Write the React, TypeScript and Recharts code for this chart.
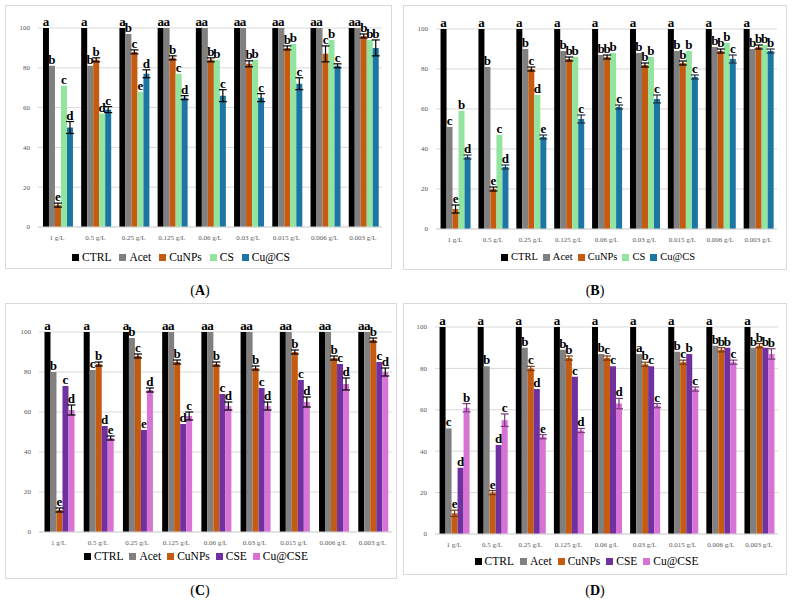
import React from "react";
import { BarChart, Bar, XAxis, YAxis, CartesianGrid, Legend, ErrorBar, LabelList } from "recharts";

const doses = ["1 g/L", "0.5 g/L", "0.25 g/L", "0.125 g/L", "0.06 g/L", "0.03 g/L", "0.015 g/L", "0.006 g/L", "0.003 g/L"];
const yTicks = [0, 20, 40, 60, 80, 100];
const ctrl = [100, 100, 100, 100, 100, 100, 100, 100, 100];

// (A) chitosan
const aAcet = [81, 81, 97, 100, 100, 100, 100, 100, 100];
const aCuNPs = [11, 84, 88, 85, 84, 82, 90, 87, 96];
const aCS = [71, 57, 68, 77, 84, 84, 92, 94, 94];
const aCuCS = [50, 59, 77, 65, 66, 65, 72, 81, 90];
const aCuNPsErr = [1, 1, 1, 1, 1, 1.5, 1, 4, 1];
const aCuCSErr = [3, 1.5, 2, 1, 3, 2, 3, 1, 4];
const aLetters = ["abecd", "abbdc", "abced", "aabcd", "aabbc", "aabbc", "aabbc", "aacbc", "aabbb"];

// (B) chitosan
const bAcet = [51, 81, 90, 89, 87, 88, 89, 91, 90];
const bCuNPs = [10, 20, 80, 85, 86, 82, 83, 89, 91];
const bCS = [59, 47, 67, 86, 88, 86, 89, 93, 92];
const bCuCS = [36, 31, 46, 55, 61, 65, 76, 85, 89];
const bCuNPsErr = [2, 1, 1, 1, 1, 1, 1, 1, 1];
const bCuCSErr = [1, 1, 1, 2, 1, 2, 1, 2, 1];
const bLetters = ["acebd", "abecd", "abcde", "abbbc", "abbbc", "abbbc", "abbbc", "abbbc", "abbbb"];

// (C) extract
const cAcet = [80, 81, 97, 100, 100, 100, 100, 100, 100];
const cCuNPs = [11, 84, 88, 85, 84, 82, 90, 87, 96];
const cCSE = [73, 53, 51, 54, 69, 72, 76, 84, 85];
const cCuCSE = [61, 47, 71, 58, 63, 63, 65, 74, 80];
const cCuNPsErr = [1, 1, 1, 1, 1, 1, 1, 1, 1];
const cCuCSEErr = [2.5, 1, 1, 2, 2, 2, 2.5, 3, 2];
const cLetters = ["abecd", "acbde", "abced", "aabdc", "aabcd", "aabcd", "aabcd", "aabcd", "aabcd"];

// (D) extract
const dAcet = [51, 81, 90, 89, 87, 87, 88, 91, 90];
const dCuNPs = [10, 20, 80, 85, 85, 82, 83, 89, 91];
const dCSE = [32, 43, 70, 76, 81, 81, 87, 90, 90];
const dCuCSE = [61, 55, 47, 50, 63, 62, 70, 83, 87];
const dCuNPsErr = [1.5, 1, 1, 1, 1, 1, 1, 1, 1];
const dCuCSEErr = [2, 3, 1, 1, 2.5, 1, 1, 1, 2.5];
const dLetters = ["acedb", "abedc", "abcde", "abbcd", "abccd", "aabcc", "abcbc", "abbbc", "abbbb"];

const csNames = ["CTRL", "Acet", "CuNPs", "CS", "Cu@CS"];
const cseNames = ["CTRL", "Acet", "CuNPs", "CSE", "Cu@CSE"];
const csColors = ["#000000", "#808080", "#C55A11", "#92E59E", "#1B76A4"];
const cseColors = ["#000000", "#808080", "#C55A11", "#7030A0", "#D873D6"];

const FONT = "Liberation Serif, DejaVu Serif, serif";
const KEYS = ["ctrl", "acet", "cunps", "s4", "s5"];

type Row = { [k: string]: any };

function makeRows(acet: number[], cunps: number[], s4: number[], s5: number[], cunpsErr: number[], s5Err: number[], letters: string[]): Row[] {
  return doses.map((dose, i) => ({
    dose,
    ctrl: ctrl[i],
    acet: acet[i],
    cunps: cunps[i],
    s4: s4[i],
    s5: s5[i],
    cunpsErr: cunpsErr[i],
    s5Err: s5Err[i],
    letters: letters[i],
  }));
}

const letterLabel = (rows: Row[], series: number) => (props: any) => {
  const vb = props.viewBox || props;
  const x = Number(vb.x ?? props.x);
  const y = Number(vb.y ?? props.y);
  const width = Number(vb.width ?? props.width);
  const height = Number(vb.height ?? props.height);
  const row = rows[props.index ?? 0];
  if (!row) return null;
  const val = row[KEYS[series]];
  const err = series === 2 ? row.cunpsErr : series === 4 ? row.s5Err : 0;
  const errPx = val ? (err * height) / val : 0;
  return (
    <text
      x={x + width / 2}
      y={y - errPx - 2}
      textAnchor="middle"
      style={{ fontFamily: FONT, fontSize: 13, fontWeight: 700 }}
      fill="#000"
    >
      {row.letters[series]}
    </text>
  );
};

// legend in series order (recharts sorts by name otherwise)
const legendContent = (names: string[], colors: string[], gap: number, size: number) => () => (
  <div
    style={{
      display: "flex",
      justifyContent: "center",
      whiteSpace: "nowrap",
      gap,
      fontFamily: FONT,
      fontSize: size,
      lineHeight: "14px",
      color: "#000",
    }}
  >
    {names.map((n, i) => (
      <span key={n} style={{ display: "inline-flex", alignItems: "center", gap: 3 }}>
        <span style={{ display: "inline-block", width: 7, height: 7, background: colors[i] }} />
        <span>{n}</span>
      </span>
    ))}
  </div>
);

type PanelProps = {
  left: number;
  top: number;
  width: number;
  height: number;
  margin: { top: number; right: number; bottom: number; left: number };
  gap: string;
  rows: Row[];
  names: string[];
  colors: string[];
  errColors: string[];
  legendTop: number;
  legendLeft: number;
  legendWidth: number;
  legendGap: number;
  legendSize: number;
};

function Panel(p: PanelProps) {
  const tickStyle = { fontSize: 7, fill: "#595959", fontFamily: FONT };
  return (
    <div
      style={{
        position: "absolute",
        left: p.left,
        top: p.top,
        width: p.width,
        height: p.height,
        border: "1px solid #d9d9d9",
        background: "#fff",
      }}
    >
      <BarChart width={p.width} height={p.height} data={p.rows} margin={p.margin} barCategoryGap={p.gap} barGap={0}>
        <CartesianGrid vertical={false} stroke="#d9d9d9" />
        <XAxis
          dataKey="dose"
          interval={0}
          height={30}
          tickLine={false}
          axisLine={{ stroke: "#d9d9d9" }}
          tick={tickStyle}
        />
        <YAxis
          domain={[0, 100]}
          ticks={yTicks}
          width={24}
          axisLine={false}
          tickLine={false}
          tick={tickStyle}
        />
        <Legend
          layout="horizontal"
          verticalAlign="middle"
          align="center"
          content={legendContent(p.names, p.colors, p.legendGap, p.legendSize)}
          wrapperStyle={{ top: p.legendTop, left: p.legendLeft, width: p.legendWidth }}
        />
        {KEYS.map((k, s) => (
          <Bar key={k} dataKey={k} name={p.names[s]} fill={p.colors[s]} isAnimationActive={false}>
            {s === 2 && <ErrorBar dataKey="cunpsErr" width={4} stroke={p.errColors[0]} strokeWidth={1.2} direction="y" />}
            {s === 4 && <ErrorBar dataKey="s5Err" width={4} stroke={p.errColors[1]} strokeWidth={1.2} direction="y" />}
            <LabelList dataKey={k} content={letterLabel(p.rows, s)} />
          </Bar>
        ))}
      </BarChart>
    </div>
  );
}

const rowsA = makeRows(aAcet, aCuNPs, aCS, aCuCS, aCuNPsErr, aCuCSErr, aLetters);
const rowsB = makeRows(bAcet, bCuNPs, bCS, bCuCS, bCuNPsErr, bCuCSErr, bLetters);
const rowsC = makeRows(cAcet, cCuNPs, cCSE, cCuCSE, cCuNPsErr, cCuCSEErr, cLetters);
const rowsD = makeRows(dAcet, dCuNPs, dCSE, dCuCSE, dCuNPsErr, dCuCSEErr, dLetters);

const caption = (label: string, x: number, y: number) => (
  <div
    style={{
      position: "absolute",
      left: x - 30,
      top: y - 9,
      width: 60,
      textAlign: "center",
      fontFamily: FONT,
      fontSize: 14,
      lineHeight: "18px",
      color: "#000",
    }}
  >
    (<b>{label}</b>)
  </div>
);

export default function App() {
  return (
    <div style={{ position: "absolute", left: 0, top: 0, width: 794, height: 611, background: "#fff", overflow: "hidden" }}>
      <Panel
        left={5} top={5} width={385} height={262}
        margin={{ top: 22, right: 9, bottom: 11, left: 8 }}
        gap="13%" rows={rowsA} names={csNames} colors={csColors} errColors={["#000", "#000"]}
        legendTop={244} legendLeft={69} legendWidth={212} legendGap={8} legendSize={11.5}
      />
      <Panel
        left={403} top={5} width={382} height={263}
        margin={{ top: 23, right: 9, bottom: 10, left: 8 }}
        gap="12%" rows={rowsB} names={csNames} colors={csColors} errColors={["#000", "#223344"]}
        legendTop={244} legendLeft={102} legendWidth={184} legendGap={5} legendSize={10.5}
      />
      <Panel
        left={5} top={303} width={390} height={274}
        margin={{ top: 28, right: 4, bottom: 16, left: 9 }}
        gap="14%" rows={rowsC} names={cseNames} colors={cseColors} errColors={["#000", "#000"]}
        legendTop={245} legendLeft={86} legendWidth={208} legendGap={6} legendSize={11.5}
      />
      <Panel
        left={403} top={303} width={382} height={270}
        margin={{ top: 23, right: 8, bottom: 10, left: 7 }}
        gap="12%" rows={rowsD} names={cseNames} colors={cseColors} errColors={["#7a3a10", "#7a3a7a"]}
        legendTop={250} legendLeft={77} legendWidth={211} legendGap={6} legendSize={11.5}
      />
      {caption("A", 200, 291)}
      {caption("B", 595, 291)}
      {caption("C", 200, 591)}
      {caption("D", 595, 591)}
    </div>
  );
}
